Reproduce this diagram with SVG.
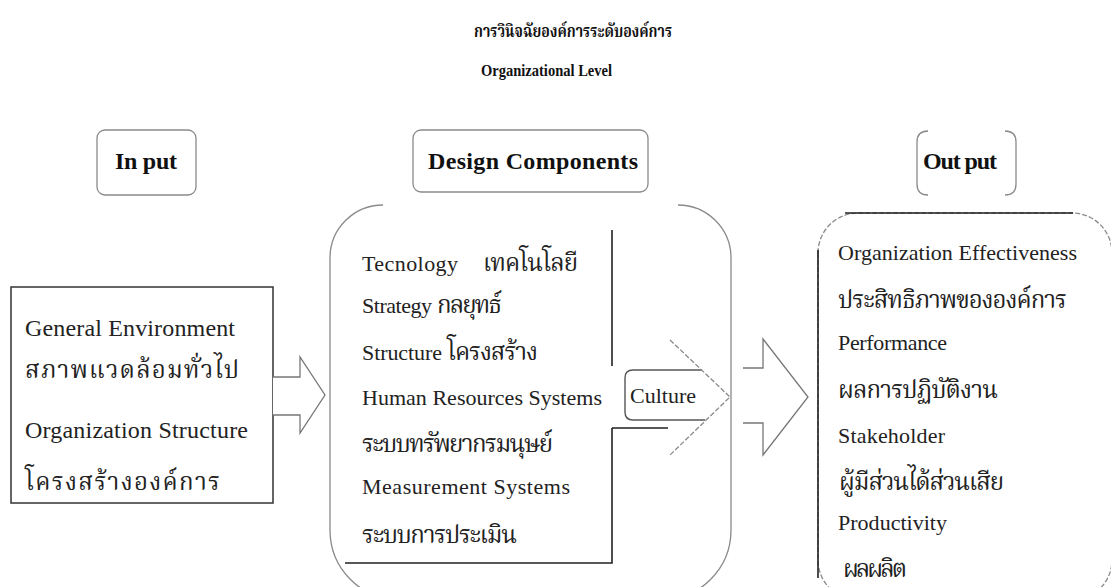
<svg xmlns="http://www.w3.org/2000/svg" width="1111" height="587" viewBox="0 0 1111 587">
<style>
.en{font-family:"Liberation Serif","Times New Roman",serif;font-size:22px;fill:#222}
.enl{font-family:"Liberation Serif","Times New Roman",serif;font-size:24px;fill:#222}
.th{font-family:"Liberation Serif","Noto Serif Thai","Noto Sans Thai","Tlwg Typo","Garuda",serif;font-size:24px;fill:#222}
.hd{font-family:"Liberation Serif","Times New Roman",serif;font-size:24px;font-weight:bold;fill:#111}
.ttl{font-family:"Liberation Serif","Noto Serif Thai","Noto Sans Thai",serif;font-size:17px;font-weight:bold;fill:#111}
.gray{fill:none;stroke:#8a8a8a;stroke-width:1.3}
.dash{fill:none;stroke:#8a8a8a;stroke-width:1.3;stroke-dasharray:5 2}
.dark{fill:none;stroke:#222;stroke-width:1.6}
</style>
<rect width="1111" height="587" fill="#fff"/>

<g id="title">
<text class="ttl" x="474" y="37" textLength="198" lengthAdjust="spacingAndGlyphs">การวินิจฉัยองค์การระดับองค์การ</text>
<text class="ttl" x="481" y="76" textLength="131" lengthAdjust="spacingAndGlyphs">Organizational Level</text>
</g>

<g id="input-header">
<rect class="gray" x="97" y="130" width="99" height="65" rx="8"/>
<text class="hd" x="115" y="169" textLength="62">In put</text>
</g>

<g id="design-header">
<rect class="gray" x="413" y="130" width="235" height="62" rx="8"/>
<text class="hd" x="428" y="169" textLength="210">Design Components</text>
</g>

<g id="output-header">
<path class="gray" d="M928,131 Q917,131 917,142 V184 Q917,195 928,195"/>
<path class="gray" d="M1005,131 Q1016,131 1016,142 V184 Q1016,195 1005,195"/>
<text class="hd" x="923" y="169" textLength="74">Out put</text>
</g>

<g id="input">
<rect x="11" y="287" width="262" height="216" fill="#fff" stroke="#333" stroke-width="1.5"/>
<text class="enl" x="25" y="336" textLength="210">General Environment</text>
<text class="th" x="25" y="378" textLength="214">สภาพแวดล้อมทั่วไป</text>
<text class="enl" x="25" y="438" textLength="223">Organization Structure</text>
<text class="th" x="25" y="490" textLength="195">โครงสร้างองค์การ</text>
</g>

<g id="design">
<path class="gray" d="M383,205 A53,53 0 0 0 330,258 V530 A70,70 0 0 0 400,600 H661 A70,70 0 0 0 731,530 V258 A53,53 0 0 0 678,205"/>
<path class="dark" d="M612,230 V366 M612,428 V563 H345 M612,428 H668"/>
<text class="en" x="362" y="271" textLength="96">Tecnology</text>
<text class="th" x="483" y="271" textLength="95">เทคโนโลยี</text>
<text class="en" x="362" y="313" textLength="70">Strategy</text>
<text class="th" x="437" y="313" textLength="65">กลยุทธ์</text>
<text class="en" x="362" y="360" textLength="80">Structure</text>
<text class="th" x="447" y="360" textLength="91">โครงสร้าง</text>
<text class="en" x="362" y="405" textLength="240">Human Resources Systems</text>
<text class="th" x="362" y="452" textLength="191">ระบบทรัพยากรมนุษย์</text>
<text class="en" x="362" y="494" textLength="208">Measurement Systems</text>
<text class="th" x="362" y="543" textLength="155">ระบบการประเมิน</text>
</g>

<g id="culture">
<path d="M702,370 H633 Q625,370 625,378 V412 Q625,420 633,420 H705" fill="none" stroke="#555" stroke-width="1.4"/>
<path class="dash" d="M670,340 L730,397 L670,455"/>
<text class="en" x="630" y="403" textLength="66">Culture</text>
</g>

<g id="output">
<path class="dash" d="M818,253 A40,40 0 0 1 858,213 H1072 A40,40 0 0 1 1112,253 V560 A40,40 0 0 1 1072,600 H858 A40,40 0 0 1 818,560 Z"/>
<path class="dark" d="M845,213 H1073 M818,250 V578"/>
<text class="en" x="838" y="260" textLength="239">Organization Effectiveness</text>
<text class="th" x="838" y="308" textLength="229">ประสิทธิภาพขององค์การ</text>
<text class="en" x="838" y="350" textLength="109">Performance</text>
<text class="th" x="838" y="398" textLength="160">ผลการปฏิบัติงาน</text>
<text class="en" x="838" y="443" textLength="107">Stakeholder</text>
<text class="th" x="838" y="490" textLength="165">ผู้มีส่วนได้ส่วนเสีย</text>
<text class="en" x="838" y="530" textLength="109">Productivity</text>
<text class="th" x="843" y="577" textLength="64">ผลผลิต</text>
</g>

<g id="connectors">
<path d="M273,377 H300 V357 L325,395 L300,433 V415 H273" fill="#fff" stroke="#777" stroke-width="1.3"/>
<path d="M743,368 H763 V339 L808,397 L763,455 V423 H743" fill="#fff" stroke="#777" stroke-width="1.3"/>
</g>
</svg>
